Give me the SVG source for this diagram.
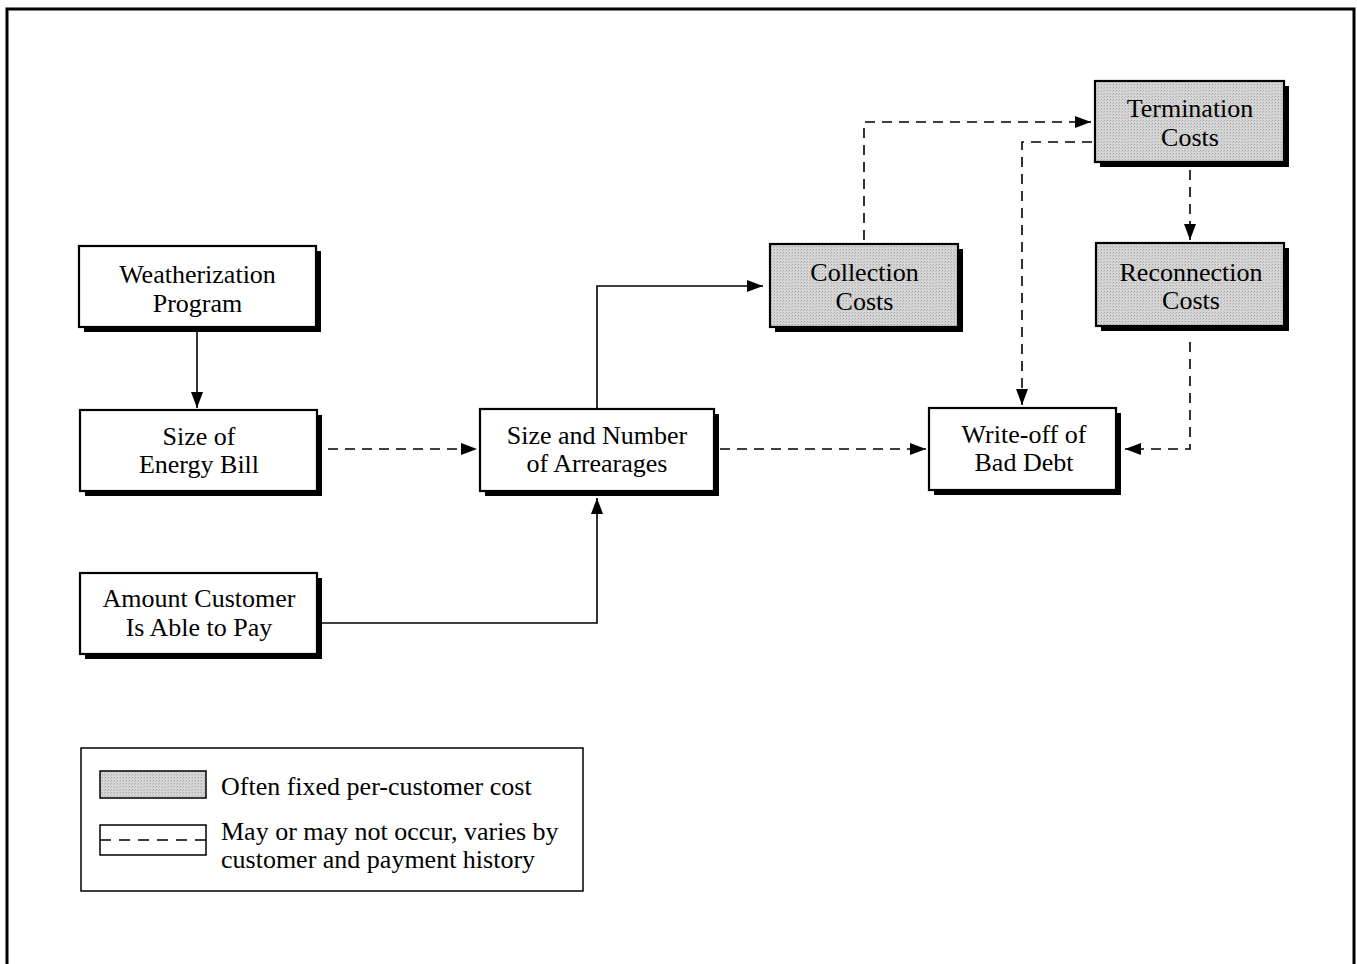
<svg xmlns="http://www.w3.org/2000/svg" width="1357" height="964" viewBox="0 0 1357 964">
<style>
text{font-family:"Liberation Serif","Times New Roman",serif;font-size:26px;fill:#000}
.nt{text-anchor:middle}
.sh{fill:#000}
.bx{fill:#fff;stroke:#000;stroke-width:2.2}
.gb{fill:url(#stip);stroke:#000;stroke-width:2.2}
.c{fill:none;stroke:#000;stroke-width:1.6}
.d{stroke-dasharray:10 7}
</style>
<defs>
<pattern id="stip" width="3" height="3" patternUnits="userSpaceOnUse">
<rect width="3" height="3" fill="#d6d6d6"/>
<rect width="1" height="1" fill="#a8a8a8"/>
<rect x="2" y="1" width="1" height="1" fill="#bcbcbc"/>
</pattern>
<marker id="ah" viewBox="0 0 16 12" refX="16" refY="6" markerWidth="16" markerHeight="12" markerUnits="userSpaceOnUse" orient="auto">
<path d="M0,0 L16,6 L0,12 Z" fill="#000"/>
</marker>
</defs>
<path d="M7,970 V9 H1354 V970" fill="none" stroke="#000" stroke-width="3"/>

<g id="connectors">
<path class="c" d="M197,332 V408" marker-end="url(#ah)"/>
<path class="c d" d="M328,449 H477" marker-end="url(#ah)"/>
<path class="c" d="M322,623 H597 V498" marker-end="url(#ah)"/>
<path class="c" d="M597,409 V286 H763" marker-end="url(#ah)"/>
<path class="c d" d="M720,449 H926" marker-end="url(#ah)"/>
<path class="c d" d="M864,240 V122 H1091" marker-end="url(#ah)"/>
<path class="c d" d="M1092,142 H1022 V405" marker-end="url(#ah)"/>
<path class="c d" d="M1190,170 V240" marker-end="url(#ah)"/>
<path class="c d" d="M1190,342 V449 H1125" marker-end="url(#ah)"/>
</g>

<g id="weatherization">
<rect class="sh" x="84" y="251" width="237" height="81"/>
<rect class="bx" x="79" y="246" width="237" height="81"/>
<text class="nt" x="197.5" y="283">Weatherization</text>
<text class="nt" x="197.5" y="312">Program</text>
</g>
<g id="energy-bill">
<rect class="sh" x="85" y="415" width="237" height="81"/>
<rect class="bx" x="80" y="410" width="237" height="81"/>
<text class="nt" x="199" y="445">Size of</text>
<text class="nt" x="199" y="473">Energy Bill</text>
</g>
<g id="amount-customer">
<rect class="sh" x="85" y="578" width="237" height="81"/>
<rect class="bx" x="80" y="573" width="237" height="81"/>
<text class="nt" x="199" y="607">Amount Customer</text>
<text class="nt" x="199" y="636">Is Able to Pay</text>
</g>
<g id="arrearages">
<rect class="sh" x="485" y="414" width="234" height="82"/>
<rect class="bx" x="480" y="409" width="234" height="82"/>
<text class="nt" x="597" y="444">Size and Number</text>
<text class="nt" x="597" y="472">of Arrearages</text>
</g>
<g id="write-off">
<rect class="sh" x="934" y="413" width="187" height="82"/>
<rect class="bx" x="929" y="408" width="187" height="82"/>
<text class="nt" x="1024" y="443">Write-off of</text>
<text class="nt" x="1024" y="471">Bad Debt</text>
</g>
<g id="collection">
<rect class="sh" x="775" y="249" width="188" height="83"/>
<rect class="gb" x="770" y="244" width="188" height="83"/>
<text class="nt" x="864.5" y="281">Collection</text>
<text class="nt" x="864.5" y="310">Costs</text>
</g>
<g id="termination">
<rect class="sh" x="1100" y="86" width="189" height="81"/>
<rect class="gb" x="1095" y="81" width="189" height="81"/>
<text class="nt" x="1190" y="117">Termination</text>
<text class="nt" x="1190" y="146">Costs</text>
</g>
<g id="reconnection">
<rect class="sh" x="1101" y="248" width="188" height="83"/>
<rect class="gb" x="1096" y="243" width="188" height="83"/>
<text class="nt" x="1191" y="281">Reconnection</text>
<text class="nt" x="1191" y="309">Costs</text>
</g>

<g id="legend">
<rect x="81" y="748" width="502" height="143" fill="#fff" stroke="#000" stroke-width="1.5"/>
<rect x="100" y="771" width="106" height="27" fill="url(#stip)" stroke="#000" stroke-width="1.5"/>
<text x="221" y="795">Often fixed per-customer cost</text>
<path d="M100,825 V855 H206 V825 Z" fill="#fff" stroke="#000" stroke-width="1.5"/>
<path d="M100,840 H206" fill="none" stroke="#000" stroke-width="1.6" stroke-dasharray="11 8"/>
<text x="221" y="840">May or may not occur, varies by</text>
<text x="221" y="868">customer and payment history</text>
</g>
</svg>
